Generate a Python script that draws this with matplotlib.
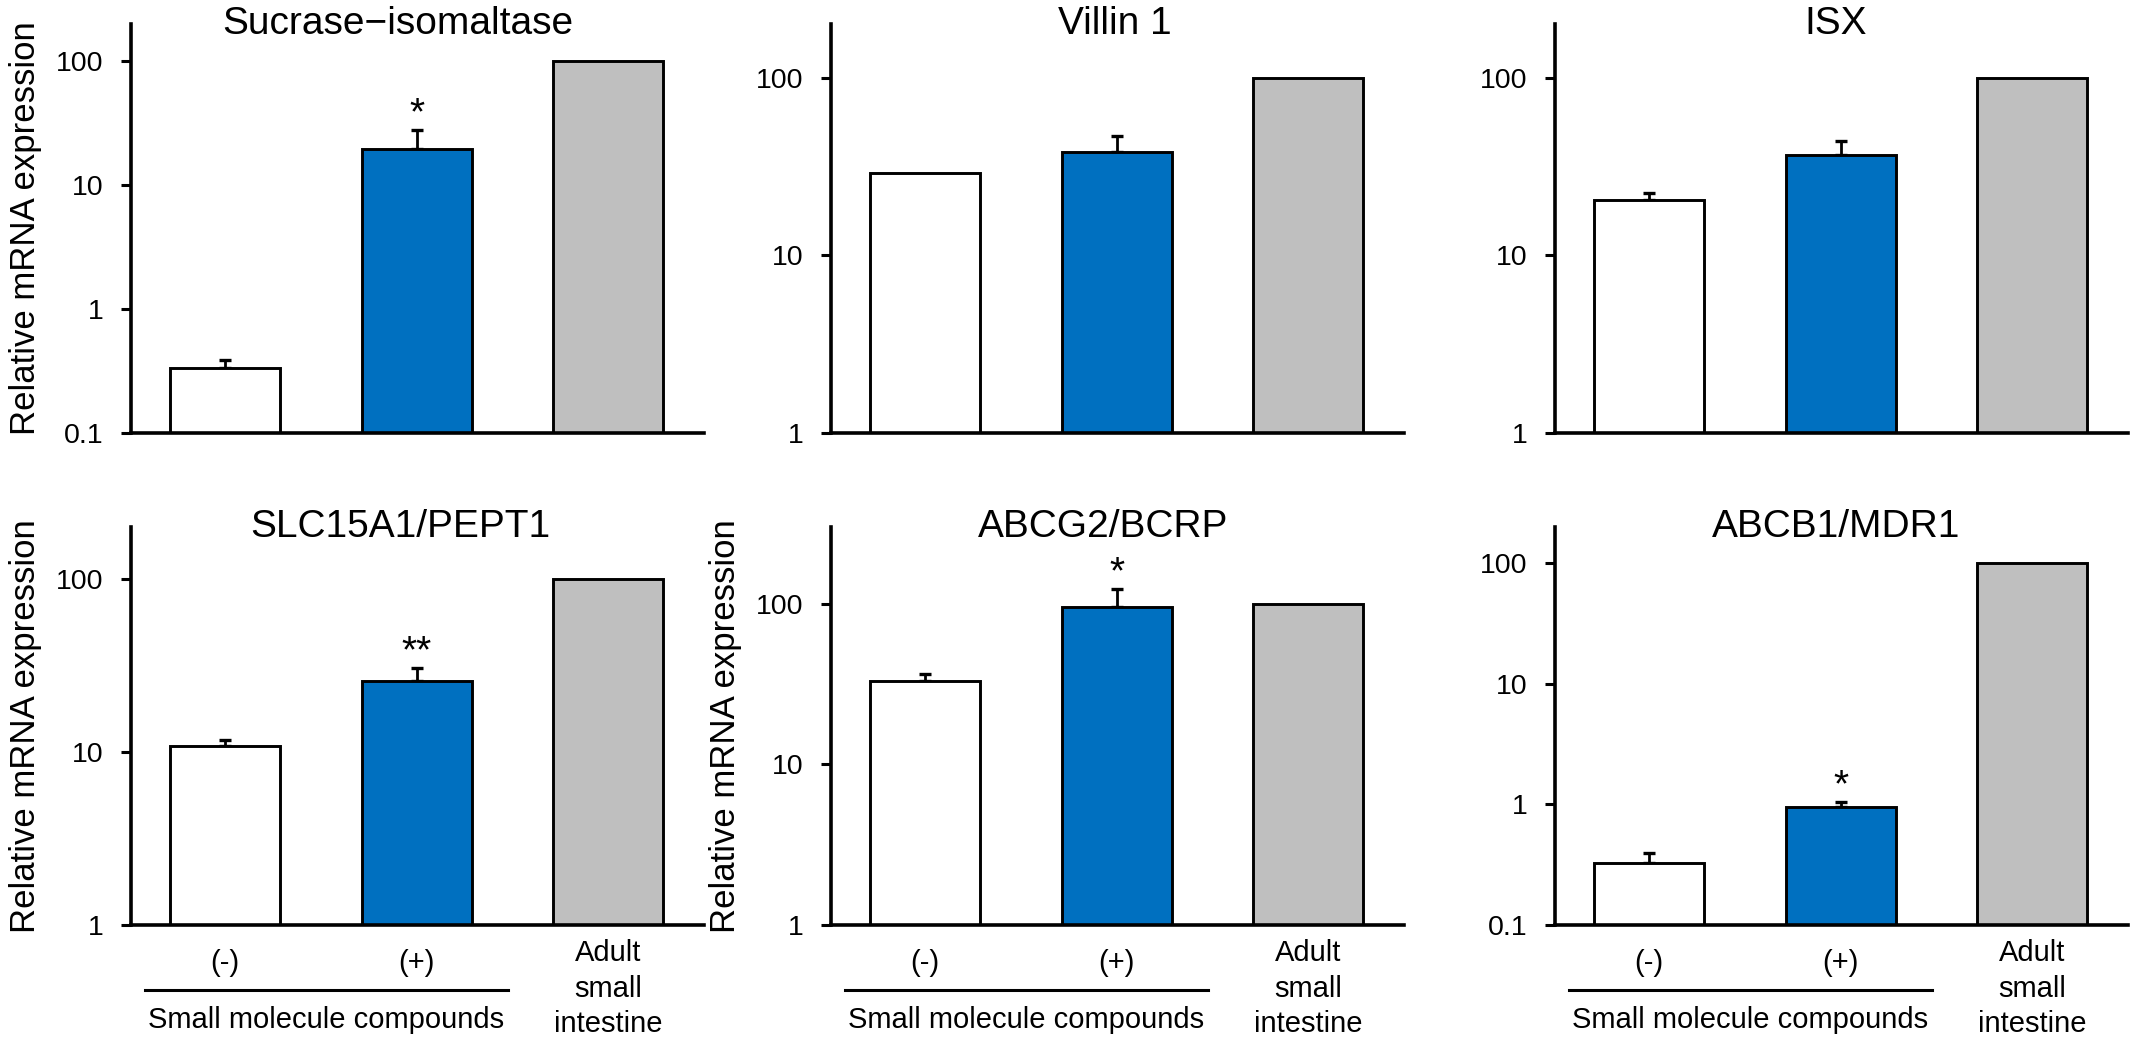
import numpy as np
import matplotlib
matplotlib.use('Agg')
import matplotlib.pyplot as plt
from matplotlib.ticker import FixedLocator, NullLocator, FuncFormatter
from matplotlib.lines import Line2D

plt.rcParams['font.family'] = ['Liberation Sans', 'DejaVu Sans']

# ---- data ----
genes = ['Sucrase\u2212isomaltase', 'Villin 1', 'ISX', 'SLC15A1/PEPT1', 'ABCG2/BCRP', 'ABCB1/MDR1']
groups = ['(-)', '(+)', 'Adult\nsmall\nintestine']
minus_vals = [0.337, 29.2, 20.5, 10.9, 32.8, 0.324]
minus_err = [0.052, np.nan, 1.9, 0.8, 3.8, 0.069]
plus_vals = [19.6, 38.3, 36.8, 25.7, 95.3, 0.955]
plus_err = [8.5, 8.8, 7.0, 5.1, 28.7, 0.095]
adult_vals = [100, 100, 100, 100, 100, 100]
stars = ['*', '', '', '**', '*', '*']
ymins = [0.1, 1, 1, 1, 1, 0.1]
ymaxs = [200, 200, 200, 200, 300, 200]
bar_colors = ['#FFFFFF', '#0070C0', '#BFBFBF']

# ---- layout in pixels of the 2138x1057 canvas ----
W, H = 2138, 1057
lefts = [131, 831, 1555]
aw = 573
rows = [(24, 433), (527, 925)]
title_x = [0.465, 0.495, 0.49, 0.47, 0.475, 0.49]

fig = plt.figure(figsize=(W/100, H/100), dpi=100)
x = np.arange(3)
for i, g in enumerate(genes):
    r, c = divmod(i, 3)
    top, bot = rows[r]
    ax = fig.add_axes([lefts[c]/W, 1-bot/H, aw/W, (bot-top)/H])
    vals = [minus_vals[i], plus_vals[i], adult_vals[i]]
    ax.bar(x, vals, width=0.574, color=bar_colors, edgecolor='black', linewidth=2.1, zorder=2)
    errs = [minus_err[i], plus_err[i], np.nan]
    for xi, v, e in zip(x, vals, errs):
        if np.isnan(e):
            continue
        ax.errorbar(xi, v, yerr=[[0], [e]], fmt='none', ecolor='black', elinewidth=2.0,
                    capsize=4, capthick=2.4, zorder=1)
    if stars[i]:
        ax.annotate(stars[i], (1, plus_vals[i]+plus_err[i]), xytext=(0, 4), textcoords='offset points',
                    ha='center', va='baseline', fontsize=28)
    ax.set_yscale('log')
    ax.set_ylim(ymins[i], ymaxs[i])
    ax.set_xlim(-0.491, 2.501)
    decs = [t for t in [0.1, 1, 10, 100] if t >= ymins[i]]
    ax.yaxis.set_major_locator(FixedLocator(decs))
    ax.yaxis.set_minor_locator(NullLocator())
    ax.yaxis.set_major_formatter(FuncFormatter(lambda v, p: '%g' % v))
    ax.tick_params(axis='y', length=7, width=2.2, pad=13, labelsize=20.5)
    ax.set_xticks([])
    for s in ['top', 'right']:
        ax.spines[s].set_visible(False)
    for s in ['left', 'bottom']:
        ax.spines[s].set_linewidth(2.6)
    ax.text(title_x[i], 1.0, g, transform=ax.transAxes, ha='center', va='center', fontsize=28)
    if i in (0, 3, 4):
        ax.set_ylabel('Relative mRNA expression', fontsize=25)
        ax.yaxis.set_label_coords(-0.155, 0.5)
    if r == 1:
        tr = ax.get_xaxis_transform()
        ax.text(0, -0.095, groups[0], transform=tr, ha='center', va='center', fontsize=21)
        ax.text(1, -0.095, groups[1], transform=tr, ha='center', va='center', fontsize=21)
        ax.text(2, -0.16, groups[2], transform=tr, ha='center', va='center', fontsize=21, linespacing=1.35)
        ax.add_line(Line2D([-0.42, 1.48], [-0.163, -0.163], transform=tr, color='black', lw=2.2, clip_on=False))
        ax.text(0.53, -0.239, 'Small molecule compounds', transform=tr, ha='center', va='center', fontsize=21)

fig.savefig('out.png', dpi=100)
